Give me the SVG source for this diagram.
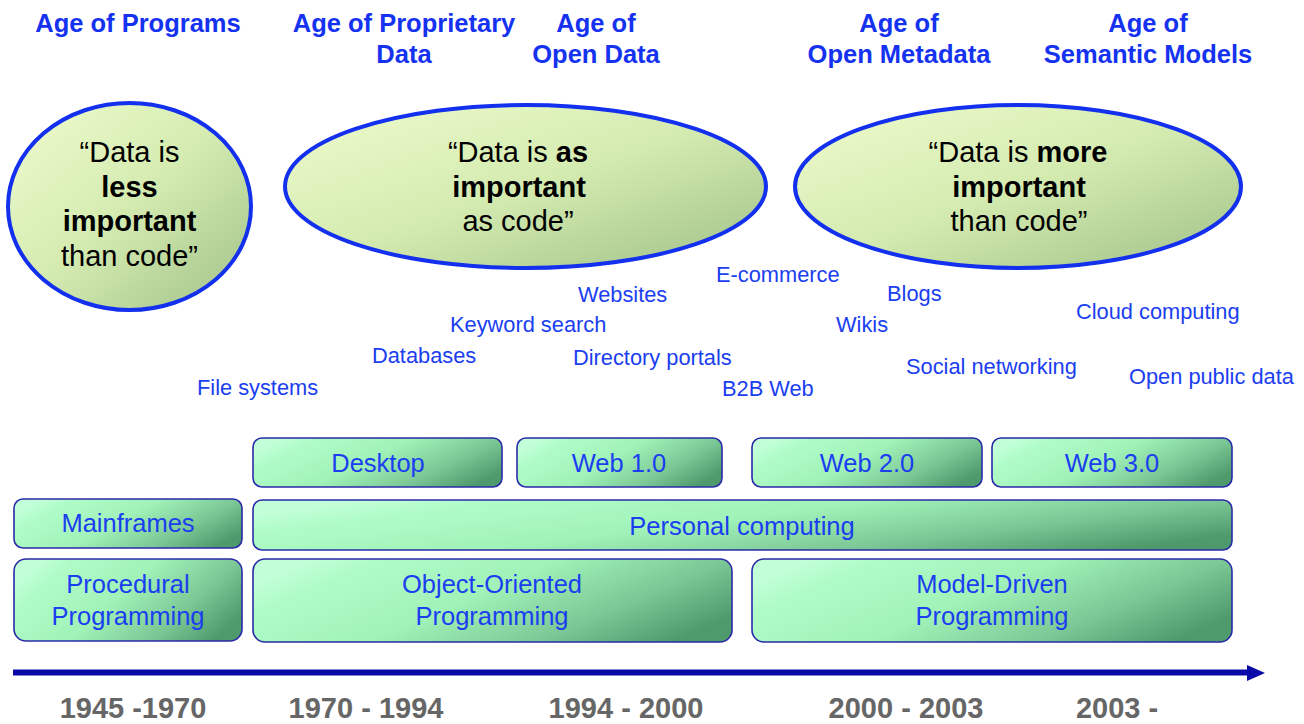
<svg xmlns="http://www.w3.org/2000/svg" width="1304" height="724" viewBox="0 0 1304 724">
<defs>
<linearGradient id="eg" x1="0" y1="0" x2="1" y2="1">
<stop offset="0" stop-color="#effcce"/>
<stop offset="0.5" stop-color="#d4ebb0"/>
<stop offset="1" stop-color="#9fc088"/>
</linearGradient>
<linearGradient id="bg" x1="0" y1="0.3" x2="1" y2="0.7">
<stop offset="0" stop-color="#c2ffd8"/>
<stop offset="0.12" stop-color="#b0fcc8"/>
<stop offset="0.45" stop-color="#a0f2b8"/>
<stop offset="0.75" stop-color="#7cc896"/>
<stop offset="1" stop-color="#4e9a6c"/>
</linearGradient>
<style>
.ell{fill:url(#eg);stroke:#1230ee;stroke-width:4}
.box{fill:url(#bg);stroke:#2a2aa8;stroke-width:1.6}
.title{font-family:"Liberation Sans",Arial,sans-serif;font-weight:bold;font-size:25.5px;fill:#1432f0;text-anchor:middle}
.quote{font-family:"Liberation Sans",Arial,sans-serif;font-size:29px;fill:#000;text-anchor:middle}
.lbl{font-family:"Liberation Sans",Arial,sans-serif;font-size:21.8px;fill:#1a3ef0}
.bt{font-family:"Liberation Sans",Arial,sans-serif;font-size:25.5px;fill:#1a3ef0;text-anchor:middle}
.yr{font-family:"Liberation Sans",Arial,sans-serif;font-weight:bold;font-size:29px;fill:#666;text-anchor:middle}
</style>
</defs>
<rect width="1304" height="724" fill="#fff"/>

<g id="titles">
<text class="title" x="138" y="32">Age of Programs</text>
<text class="title" x="404" y="32">Age of Proprietary</text>
<text class="title" x="404" y="63">Data</text>
<text class="title" x="596" y="32">Age of</text>
<text class="title" x="596" y="63">Open Data</text>
<text class="title" x="899" y="32">Age of</text>
<text class="title" x="899" y="63">Open Metadata</text>
<text class="title" x="1148" y="32">Age of</text>
<text class="title" x="1148" y="63">Semantic Models</text>
</g>

<g id="ellipse-less">
<ellipse class="ell" cx="129.5" cy="206.5" rx="121.5" ry="103.5"/>
<text class="quote" x="129.5" y="162">“Data is</text>
<text class="quote" x="129.5" y="197" font-weight="bold">less</text>
<text class="quote" x="129.5" y="231" font-weight="bold">important</text>
<text class="quote" x="129.5" y="266">than code”</text>
</g>
<g id="ellipse-as">
<ellipse class="ell" cx="525.5" cy="186.5" rx="240.5" ry="81.5"/>
<text class="quote" x="518" y="162">“Data is <tspan font-weight="bold">as</tspan></text>
<text class="quote" x="519" y="197" font-weight="bold">important</text>
<text class="quote" x="518" y="231">as code”</text>
</g>
<g id="ellipse-more">
<ellipse class="ell" cx="1018" cy="186.5" rx="223" ry="81.5"/>
<text class="quote" x="1018" y="162">“Data is <tspan font-weight="bold">more</tspan></text>
<text class="quote" x="1019" y="197" font-weight="bold">important</text>
<text class="quote" x="1019" y="231">than code”</text>
</g>

<g id="labels">
<text class="lbl" x="716" y="282">E-commerce</text>
<text class="lbl" x="578" y="302">Websites</text>
<text class="lbl" x="887" y="301">Blogs</text>
<text class="lbl" x="1076" y="319">Cloud computing</text>
<text class="lbl" x="450" y="332">Keyword search</text>
<text class="lbl" x="836" y="332">Wikis</text>
<text class="lbl" x="372" y="363">Databases</text>
<text class="lbl" x="573" y="365">Directory portals</text>
<text class="lbl" x="906" y="374">Social networking</text>
<text class="lbl" x="1129" y="384">Open public data</text>
<text class="lbl" x="197" y="395">File systems</text>
<text class="lbl" x="722" y="396">B2B Web</text>
</g>

<g id="desktop"><rect class="box" x="253" y="438" width="249" height="49" rx="9"/><text class="bt" x="378" y="472">Desktop</text></g>
<g id="web1"><rect class="box" x="517" y="438" width="205" height="49" rx="9"/><text class="bt" x="619" y="472">Web 1.0</text></g>
<g id="web2"><rect class="box" x="752" y="438" width="230" height="49" rx="9"/><text class="bt" x="867" y="472">Web 2.0</text></g>
<g id="web3"><rect class="box" x="992" y="438" width="240" height="49" rx="9"/><text class="bt" x="1112" y="472">Web 3.0</text></g>
<g id="mainframes"><rect class="box" x="14" y="499" width="228" height="49" rx="9"/><text class="bt" x="128" y="532">Mainframes</text></g>
<g id="personal"><rect class="box" x="253" y="500" width="979" height="50" rx="9"/><text class="bt" x="742" y="535">Personal computing</text></g>
<g id="procedural"><rect class="box" x="14" y="559" width="228" height="82" rx="12"/><text class="bt" x="128" y="593">Procedural</text><text class="bt" x="128" y="625">Programming</text></g>
<g id="oop"><rect class="box" x="253" y="559" width="479" height="83" rx="12"/><text class="bt" x="492" y="593">Object-Oriented</text><text class="bt" x="492" y="625">Programming</text></g>
<g id="mdp"><rect class="box" x="752" y="559" width="480" height="83" rx="12"/><text class="bt" x="992" y="593">Model-Driven</text><text class="bt" x="992" y="625">Programming</text></g>

<g id="connectors">
<line x1="13" y1="672.5" x2="1249" y2="672.5" stroke="#0a0aa8" stroke-width="6"/>
<polygon points="1247,665 1265,673 1247,681" fill="#0a0aa8"/>
</g>

<g id="years">
<text class="yr" x="133" y="718">1945 -1970</text>
<text class="yr" x="366" y="718">1970 - 1994</text>
<text class="yr" x="626" y="718">1994 - 2000</text>
<text class="yr" x="906" y="718">2000 - 2003</text>
<text class="yr" x="1117" y="718">2003 -</text>
</g>
</svg>
